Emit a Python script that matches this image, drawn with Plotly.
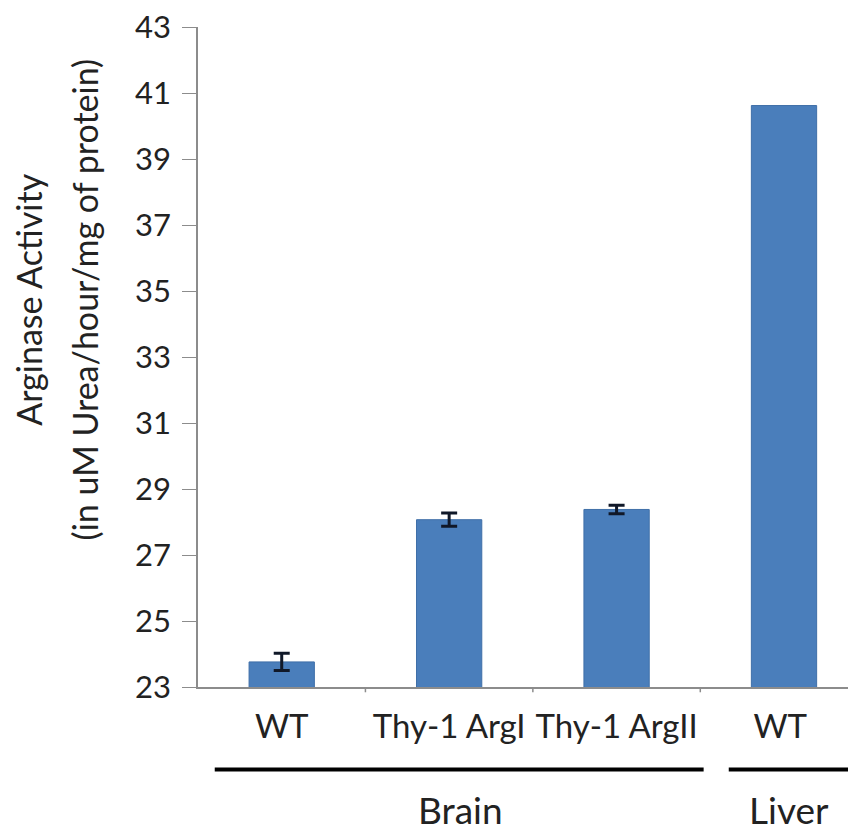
import plotly.graph_objects as go

categories = ["WT", "Thy-1 ArgI", "Thy-1 ArgII", "WT "]
values = [23.76, 28.07, 28.38, 40.62]
errors = [0.26, 0.20, 0.13, 0.0]
has_error = [True, True, True, False]
groups = [("Brain", 0, 2), ("Liver", 3, 3)]
y_ticks = list(range(23, 44, 2))

FONT = "Lato"
TXT = "#222222"
BAR = "#4a7ebb"

fig = go.Figure()
idx_err = [i for i, h in enumerate(has_error) if h]
idx_no = [i for i, h in enumerate(has_error) if not h]
fig.add_trace(go.Bar(
    x=idx_err, y=[values[i] for i in idx_err],
    marker=dict(color=BAR, line=dict(color="#3f6fa8", width=1)),
    error_y=dict(type="data", array=[errors[i] for i in idx_err], visible=True,
                 color="#101828", thickness=3, width=8),
    width=0.39,
))
fig.add_trace(go.Bar(
    x=idx_no, y=[values[i] for i in idx_no],
    marker=dict(color=BAR, line=dict(color="#3f6fa8", width=1)),
    width=0.39,
))

# group brackets (offsets relative to category indices)
bracket_pad = {"Brain": (-0.40, 0.52), "Liver": (-0.33, 0.40)}
label_shift = {"Brain": 0.07, "Liver": 0.03}
for name, a, b in groups:
    pl, pr = bracket_pad[name]
    fig.add_shape(type="line", xref="x", yref="paper", x0=a + pl, x1=b + pr, y0=-0.125, y1=-0.125,
                  line=dict(color="black", width=4))
    fig.add_annotation(x=(a + b) / 2 + label_shift[name], xref="x", y=-0.185, yref="paper",
                       text=name, showarrow=False, font=dict(family=FONT, size=37, color=TXT),
                       yanchor="middle")

title_lines = ["Arginase Activity", "(in uM Urea/hour/mg of protein)"]
for line, xp in zip(title_lines, [-0.258, -0.172]):
    fig.add_annotation(xref="paper", yref="paper", x=xp, y=0.587, textangle=-90,
                       text=line, showarrow=False, font=dict(family=FONT, size=34, color=TXT),
                       xanchor="center", yanchor="middle")

fig.update_layout(
    width=848, height=828,
    margin=dict(l=190, r=0, t=19, b=149),
    paper_bgcolor="white", plot_bgcolor="white",
    showlegend=False, barmode="overlay",
    xaxis=dict(
        range=[-0.5, 3.43], tickmode="array", tickvals=list(range(len(categories))),
        ticktext=categories, showline=True, linecolor="#8c8c8c", linewidth=1.5,
        ticks="", showgrid=False, zeroline=False,
        tickfont=dict(family=FONT, size=33, color=TXT), ticklabelstandoff=10,
    ),
    yaxis=dict(
        range=[23, 43], tickmode="array", tickvals=y_ticks, showline=True,
        linecolor="#8c8c8c", linewidth=1.5, ticks="outside", ticklen=14, tickcolor="#8c8c8c",
        showgrid=False, zeroline=False, tickfont=dict(family=FONT, size=31, color=TXT),
        ticklabelstandoff=5, ticklabeloverflow="allow", automargin=False,
    ),
)

for k in range(len(categories) - 1):
    fig.add_shape(type="line", xref="x", yref="paper", x0=k + 0.5, x1=k + 0.5, y0=0, y1=-0.008,
                  line=dict(color="#8c8c8c", width=1.5))

fig.write_html("out.html")
